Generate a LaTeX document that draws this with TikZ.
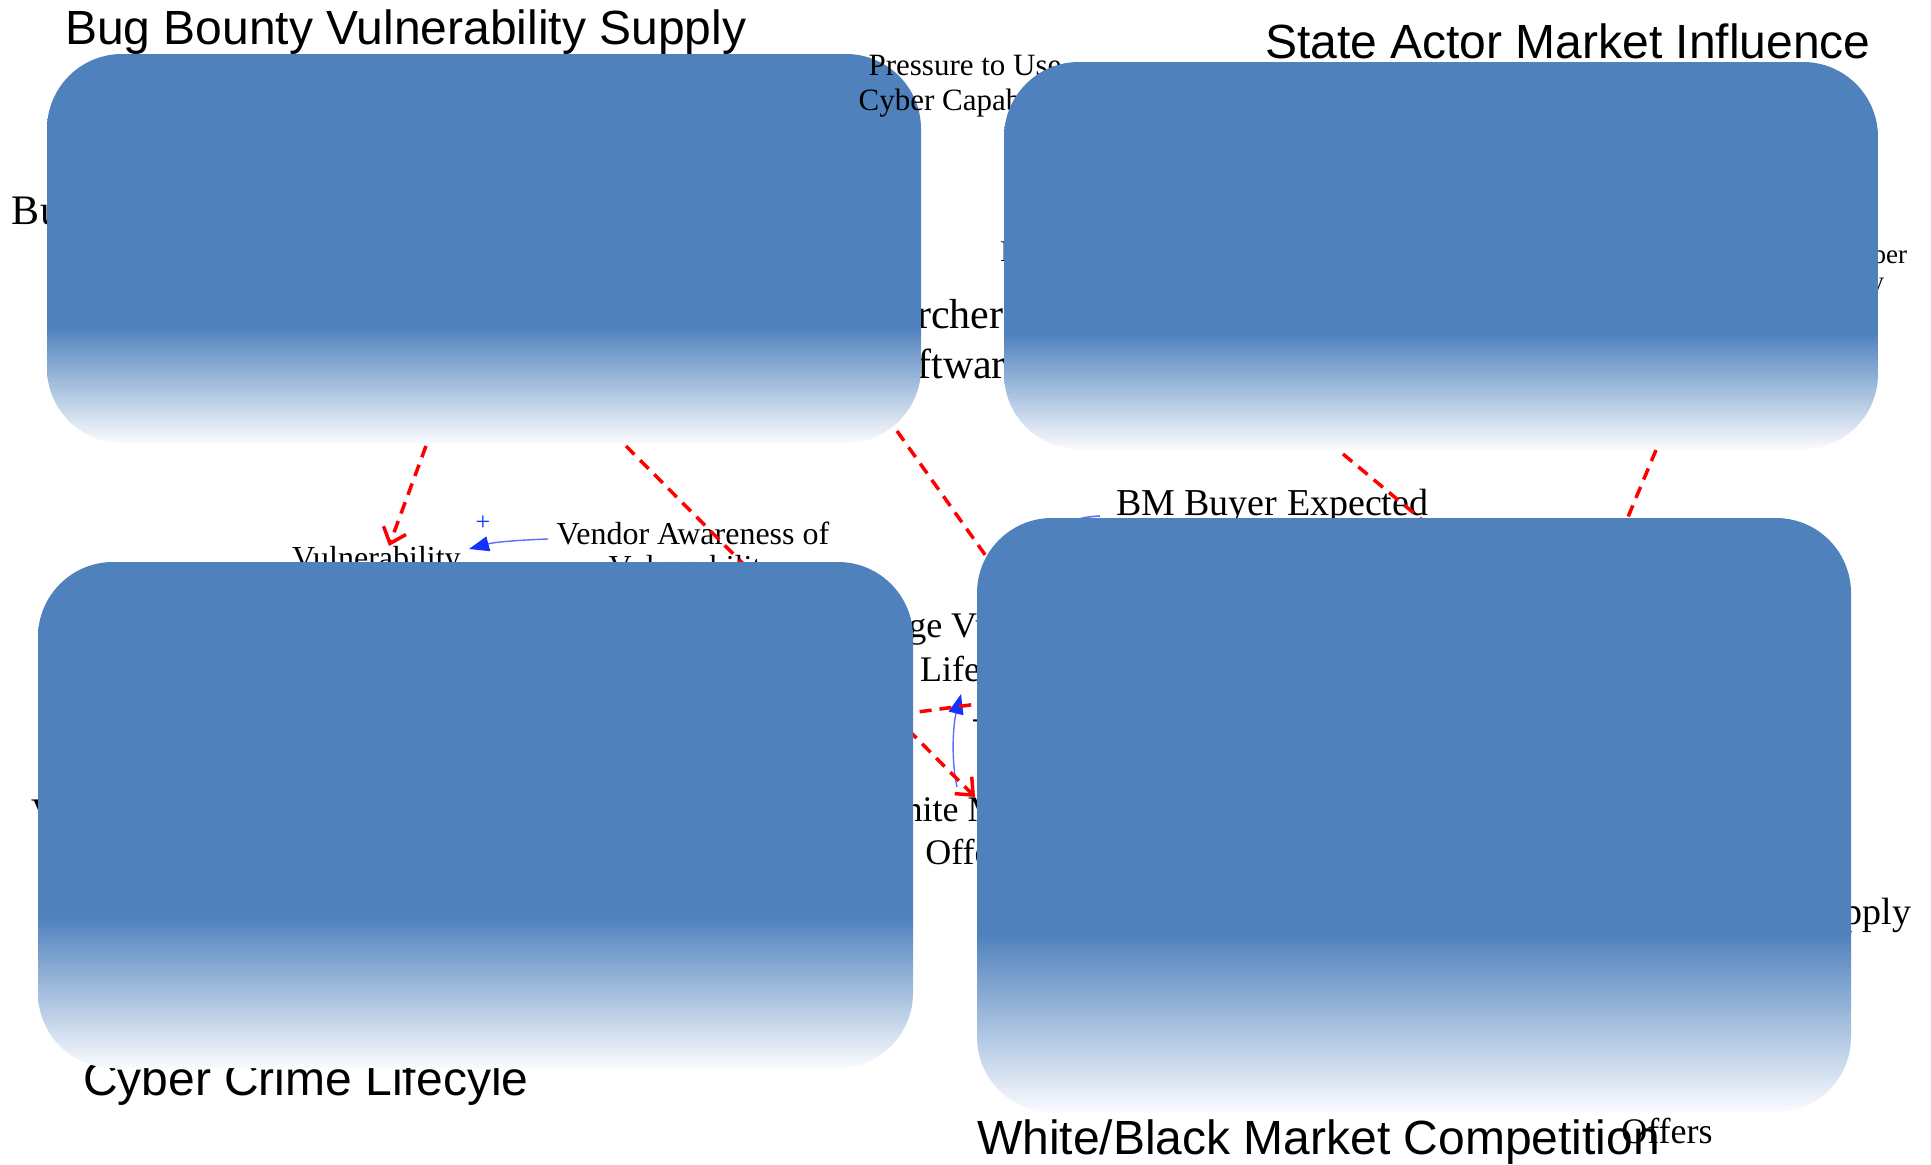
\documentclass[tikz,border=0pt]{standalone}
\usepackage{fontspec}
\setmainfont{Liberation Serif}
\newfontfamily\titlefont{Liberation Sans}
\usetikzlibrary{arrows.meta}
\definecolor{panelblue}{RGB}{79,129,189}
\definecolor{panelpale}{RGB}{250,251,254}
\definecolor{linkblue}{RGB}{90,110,255}
\definecolor{tipblue}{RGB}{20,50,255}
\pgfdeclareverticalshading{panelfade}{100bp}{color(0bp)=(panelpale); color(25bp)=(panelpale); color(40bp)=(panelblue); color(100bp)=(panelblue)}
\newcommand{\fsz}[1]{\fontsize{#1}{#1}\selectfont}
\begin{document}
\begin{tikzpicture}[x=1pt,y=-1pt,
  bg/.style={inner sep=0pt, outer sep=0pt, text=black},
  ttl/.style={inner sep=0pt, outer sep=0pt, font=\titlefont\fsz{48}, anchor=base west},
  panel/.style={shade, shading=panelfade, rounded corners=75pt},
  reddash/.style={draw=red, line width=3.5pt, dash pattern=on 12pt off 8pt},
  redarrow/.style={reddash, -{Straight Barb[length=14pt,width=24pt]}},
  bluearrow/.style={draw=linkblue, line width=1.4pt, -{Triangle[length=20pt,width=15pt,color=tipblue]}}]
\fill[white] (0,0) rectangle (1931,1165);
\useasboundingbox (0,0) rectangle (1931,1165);

% titles
\node[ttl] (t1) at (65,44) {Bug Bounty Vulnerability Supply};
\node[ttl] (t2) at (1265,58) {State Actor Market Influence};
\node[ttl] (t3) at (83,1095) {Cyber Crime Lifecyle};
\node[ttl] (t4) at (977,1154) {White/Black Market Competition};

% background variable names (mostly hidden by the panels)
\node[bg, font=\fsz{42}, anchor=base west] (bu) at (12,224) {Bug Bounty};
\node[bg, font=\fsz{30}, anchor=base west] (inc) at (1000,261) {Incentive};
\node[bg, font=\fsz{42}, anchor=base west] (res) at (817,328) {Researchers};
\node[bg, font=\fsz{42}, anchor=base west] (soft) at (873,378) {Software};
\node[bg, font=\fsz{27}, anchor=base east] (cyb1) at (1907,263) {Offensive Cyber};
\node[bg, font=\fsz{27}, anchor=base east] (cyb2) at (1884,290) {Capability};
\node[bg, font=\fsz{32}, anchor=base west] (vul) at (292,568) {Vulnerability};
\node[bg, font=\fsz{32}, anchor=base] (vend1) at (693,544) {Vendor Awareness of};
\node[bg, font=\fsz{32}, anchor=base] (vend2) at (693,577) {Vulnerability};
\node[bg, font=\fsz{38}, anchor=base west] (bm) at (1116,515) {BM Buyer Expected};
\node[bg, font=\fsz{36}, anchor=base] (avg1) at (982,637) {Average Vulnerability};
\node[bg, font=\fsz{36}, anchor=base] (avg2) at (982,681) {Lifetime};
\node[bg, font=\fsz{36}, anchor=base] (wm1) at (971,821) {White Market};
\node[bg, font=\fsz{36}, anchor=base] (wm2) at (971,864) {Offers};
\node[bg, font=\fsz{36}, anchor=base] (bmo) at (1667,1143) {Offers};
\node[bg, font=\fsz{38}, anchor=base east] (sup) at (1911,924) {Supply};
\node[bg, font=\fsz{36}, anchor=base west] (vleft) at (31,823) {Vulnerability};
\node[bg, font=\fsz{28}, anchor=base west] (minus) at (972,727) {-};
\node[bg, font=\fsz{26}, text=tipblue] (plus) at (483,523) {+};

% connector end points
\coordinate (r1s) at (426,446);  \coordinate (r1e) at (389,546);
\coordinate (r2s) at (626,446);  \coordinate (r2e) at (975,797);
\coordinate (r3s) at (897,431);  \coordinate (r3e) at (1040,632);
\coordinate (r4s) at (880,717);  \coordinate (r4e) at (1000,701);
\coordinate (r6s) at (1343,454); \coordinate (r6e) at (1470,560);
\coordinate (r7s) at (1656,450); \coordinate (r7e) at (1610,560);
\coordinate (b1s) at (957,787);  \coordinate (b1e) at (961,694);
\coordinate (b2s) at (548,539);  \coordinate (b2e) at (469,549);
\coordinate (b3s) at (1100,516); \coordinate (b3e) at (1050,545);

% connectors
\draw[bluearrow] (b1s) .. controls (951,760) and (953,725) .. (b1e);
\draw[bluearrow] (b2s) .. controls (520,540) and (495,542) .. (b2e);
\draw[draw=linkblue, line width=1.6pt] (b3s) .. controls (1080,517) and (1065,520) .. (b3e);
\draw[redarrow] (r1s) -- (r1e);
\draw[redarrow] (r2s) -- (r2e);
\draw[reddash] (r3s) -- (r3e);
\draw[reddash] (r4s) -- (r4e);
\draw[reddash] (r6s) -- (r6e);
\draw[reddash] (r7s) -- (r7e);

% panels (the first one lies under the "Pressure to Use" label, the others over it)
\path[panel] (47,54) rectangle (921,443);
\node[bg, font=\fsz{31}, anchor=base] (press1) at (965,75) {Pressure to Use};
\node[bg, font=\fsz{31}, anchor=base] (press2) at (965,110) {Cyber Capability};
\path[panel] (1004,62) rectangle (1878,449);
\path[panel] (38,562) rectangle (913,1068);
\path[panel] (977,518) rectangle (1851,1112);
\end{tikzpicture}
\end{document}
